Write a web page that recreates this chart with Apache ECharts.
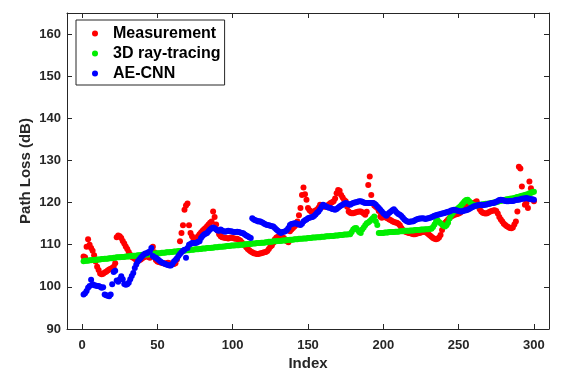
<!DOCTYPE html>
<html>
<head>
<meta charset="utf-8">
<script src="https://cdn.jsdelivr.net/npm/echarts@6/dist/echarts.min.js"></script>
<style>html,body{margin:0;padding:0;background:#fff}#c{width:567px;height:372px}</style>
</head>
<body>
<div id="c"></div>
<script>
const seriesNames = ['Measurement', '3D ray-tracing', 'AE-CNN'];
const xTicks = [0, 50, 100, 150, 200, 250, 300];
const yTicks = [90, 100, 110, 120, 130, 140, 150, 160];

const measurement = [
107.2,107.0,109.5,111.3,110.0,109.2,108.6,107.5,106.0,104.8,
104.0,103.2,103.0,103.1,103.4,103.6,103.9,104.1,104.3,104.5,
104.8,105.6,111.8,112.2,112.0,111.6,110.9,110.3,109.6,109.0,
108.3,107.6,107.1,106.9,106.7,106.4,106.2,106.3,106.5,106.8,
107.0,107.2,107.3,107.1,106.9,107.8,109.5,108.2,106.4,106.0,
105.9,105.8,105.7,105.6,105.5,105.6,105.7,105.6,105.5,105.4,
105.4,105.6,106.5,108.3,110.8,112.8,114.6,118.3,119.3,119.8,
114.6,112.8,112.0,111.4,111.2,111.6,112.0,112.5,112.9,113.3,
113.7,114.0,114.4,114.8,115.2,115.5,117.9,116.6,114.8,113.3,
112.5,112.0,111.8,111.7,111.6,111.6,111.5,111.6,111.7,111.6,
111.5,111.4,111.4,111.2,111.0,110.6,110.2,109.8,109.4,109.0,
108.7,108.4,108.2,108.0,107.9,107.8,107.8,107.9,108.0,108.1,
108.2,108.3,108.5,109.0,109.5,109.8,110.5,111.3,111.7,111.9,
112.0,111.9,111.8,111.6,111.2,110.8,110.6,113.2,113.6,114.0,
114.3,114.7,115.5,117.0,118.7,121.8,123.6,122.0,120.7,118.7,
118.2,117.9,117.8,117.9,118.1,118.3,118.8,119.5,119.3,119.1,
119.0,119.1,119.3,119.6,119.9,120.1,120.3,121.0,122.2,123.0,
122.8,121.8,121.2,120.6,120.3,119.0,117.9,117.6,117.5,117.5,
117.6,117.7,117.8,117.9,117.9,117.7,117.4,117.1,117.8,124.2,
126.2,121.8,119.9,119.3,119.0,118.7,118.0,116.7,116.4,117.1,
116.6,116.4,116.2,116.0,115.8,115.6,115.4,115.3,115.2,115.0,
114.6,114.0,113.5,113.2,113.0,112.9,112.8,112.7,112.6,112.5,
112.5,112.6,112.7,112.8,112.9,113.0,113.1,113.0,112.8,112.5,
112.2,111.9,111.6,111.4,111.3,111.4,111.7,112.3,113.5,114.5,
115.2,115.6,116.0,116.4,116.7,116.9,117.1,117.2,117.3,117.4,
117.6,117.9,118.4,118.7,119.0,119.2,119.4,119.6,119.8,119.9,
120.1,120.3,119.5,118.4,117.9,117.6,117.5,117.4,117.5,117.7,
117.9,118.0,118.1,118.2,118.0,117.4,116.6,116.0,115.5,115.0,
114.7,114.4,114.2,114.0,113.9,114.1,114.8,115.5,117.9,128.5,
128.1,123.8,121.0,119.5,119.9,118.7,125.0,123.4,122.6,120.3
];

const rayTracing = [
106.1,106.2,106.2,106.2,106.3,106.3,106.4,106.4,106.4,106.5,
106.5,106.5,106.6,106.6,106.7,106.7,106.7,106.8,106.8,106.8,
106.9,106.9,107.0,107.0,107.0,107.1,107.1,107.1,107.2,107.2,
107.2,107.3,107.3,107.4,107.4,107.4,107.5,107.5,107.5,107.6,
107.6,107.7,107.7,107.7,107.8,107.8,107.8,107.9,107.9,108.0,
108.0,108.0,108.1,108.1,108.1,108.2,108.2,108.2,108.3,108.3,
108.4,108.4,108.4,108.5,108.5,108.5,108.6,108.6,108.7,108.7,
108.7,108.8,108.8,108.8,108.9,108.9,108.9,109.0,109.0,109.1,
109.1,109.1,109.2,109.2,109.2,109.3,109.3,109.4,109.4,109.4,
109.5,109.5,109.5,109.6,109.6,109.7,109.7,109.7,109.8,109.8,
109.8,109.9,109.9,109.9,110.0,110.0,110.0,110.1,110.1,110.2,
110.2,110.2,110.3,110.3,110.3,110.4,110.4,110.4,110.5,110.5,
110.5,110.6,110.6,110.7,110.7,110.7,110.8,110.8,110.8,110.9,
110.9,110.9,111.0,111.0,111.0,111.1,111.1,111.2,111.2,111.2,
111.3,111.3,111.3,111.4,111.4,111.4,111.5,111.5,111.5,111.6,
111.6,111.6,111.7,111.7,111.7,111.8,111.8,111.8,111.9,111.9,
111.9,112.0,112.0,112.0,112.1,112.1,112.1,112.2,112.2,112.2,
112.3,112.3,112.3,112.4,112.4,112.4,112.5,112.5,113.0,113.6,
113.9,114.0,113.5,113.0,112.8,113.6,114.1,114.6,115.1,115.3,
115.6,115.9,116.3,116.7,115.6,114.7,112.8,112.8,112.8,112.8,
112.9,112.9,112.9,113.0,113.0,113.0,113.0,113.1,113.1,113.1,
113.2,113.2,113.2,113.3,113.3,113.3,113.3,113.4,113.4,113.4,
113.5,113.5,113.5,113.5,113.6,113.6,113.6,113.7,113.7,113.7,
113.8,113.8,114.2,114.8,115.5,115.8,115.4,115.1,114.8,114.5,
114.3,114.6,115.2,116.2,117.0,117.5,117.9,118.2,118.5,118.8,
119.1,119.5,119.9,120.3,120.6,120.7,120.3,119.9,119.6,119.4,
119.3,119.3,119.4,119.5,119.5,119.6,119.6,119.7,119.7,119.8,
119.8,119.9,120.0,120.0,120.1,120.2,120.3,120.4,120.5,120.6,
120.7,120.8,120.8,120.9,121.0,121.0,121.1,121.2,121.3,121.4,
121.5,121.6,121.7,121.8,121.9,122.0,122.2,122.3,122.5,122.6
];

const aeCnn = [
98.2,98.5,99.0,99.8,100.2,101.7,100.6,100.4,100.3,100.2,
100.2,100.0,99.8,99.9,98.2,98.0,97.9,97.8,98.2,100.6,
103.5,103.8,101.5,101.2,101.8,102.5,101.8,100.7,100.5,100.6,
101.0,101.8,102.6,103.3,104.5,105.3,106.0,106.5,106.9,107.3,
107.7,107.9,108.0,108.2,108.4,109.2,107.3,107.0,106.9,106.6,
106.3,106.0,105.8,105.6,105.5,105.3,105.2,105.1,105.1,105.4,
106.0,106.4,106.8,107.3,107.8,108.2,108.6,108.8,106.9,109.2,
110.0,110.2,110.4,110.4,110.4,110.5,110.7,110.8,111.6,112.1,
112.4,112.6,112.8,113.2,113.6,113.9,114.1,113.9,113.6,113.4,
113.3,113.6,113.4,113.2,113.1,113.2,113.3,113.2,113.2,113.1,
113.0,113.0,113.1,113.0,112.9,112.8,112.7,112.4,112.2,112.0,
111.8,111.6,116.3,116.0,115.8,115.7,115.5,115.6,115.4,115.2,
115.0,114.8,114.7,114.6,114.5,114.4,114.3,114.0,113.6,113.3,
113.0,112.8,113.0,113.1,113.2,113.5,114.0,114.7,114.9,115.0,
115.1,115.1,114.9,114.8,114.7,115.0,115.5,115.8,116.0,116.3,
116.4,116.5,116.6,116.8,117.2,117.6,117.9,118.4,119.0,119.5,
119.3,119.1,118.9,118.8,118.7,118.5,118.4,118.3,118.5,118.8,
119.1,119.3,119.5,119.7,119.9,119.8,119.6,119.5,119.7,119.9,
120.0,120.1,120.2,120.3,120.3,120.2,120.0,119.9,119.9,119.9,
119.9,119.9,119.9,119.8,119.5,119.1,118.7,118.3,117.9,117.5,
117.2,116.9,117.3,117.6,117.9,118.2,118.4,118.0,117.6,117.3,
117.1,116.8,116.4,116.0,115.7,115.5,115.4,115.5,115.5,115.6,
115.8,116.0,116.1,116.2,116.2,116.3,116.2,116.1,116.2,116.3,
116.4,116.5,116.7,116.9,117.0,117.1,117.2,117.3,117.4,117.5,
117.6,117.7,117.8,117.9,118.1,118.2,118.3,118.2,118.1,118.0,
117.9,117.9,118.0,118.1,118.2,118.3,118.5,118.7,118.9,119.1,
119.2,119.3,119.4,119.5,119.5,119.4,119.5,119.5,119.6,119.7,
119.8,119.9,119.9,120.0,120.2,120.4,120.6,120.7,120.6,120.5,
120.4,120.3,120.3,120.4,120.4,120.4,120.5,120.6,120.7,120.7,
120.8,120.9,121.0,121.0,121.1,121.0,120.9,120.8,120.8,120.7
];

const colors = ['#ff0000', '#00ee00', '#0000ff'];
const FONT = 'Liberation Sans, Arial, sans-serif';
const toPairs = arr => arr.map((v, i) => [i + 1, v]);

const chart = echarts.init(document.getElementById('c'), null, {renderer: 'canvas'});

const axisLine = {show: true, onZero: false, lineStyle: {color: '#262626', width: 1}};
const tick = vals => ({show: true, inside: true, length: 5, customValues: vals, lineStyle: {color: '#262626', width: 1}});

chart.setOption({
  animation: false,
  backgroundColor: '#ffffff',
  grid: {left: 67, right: 18, top: 13, bottom: 43, containLabel: false, outerBoundsMode: 'none'},
  legend: {
    data: seriesNames,
    orient: 'vertical',
    left: 76, top: 20,
    padding: [5, 4, 3, 16],
    itemGap: 3,
    itemWidth: 6, itemHeight: 6,
    icon: 'circle',
    backgroundColor: '#ffffff',
    borderColor: '#262626', borderWidth: 1,
    textStyle: {fontFamily: FONT, fontWeight: 'bold', fontSize: 16, color: '#000', padding: [0, 0, 0, 10], lineHeight: 17}
  },
  xAxis: [
    {type: 'value', min: -10, max: 310, position: 'bottom',
     name: 'Index', nameLocation: 'middle', nameGap: 27, nameMoveOverlap: false,
     nameTextStyle: {fontFamily: FONT, fontWeight: 'bold', fontSize: 15, color: '#262626'},
     axisLine, axisTick: tick(xTicks), splitLine: {show: false},
     axisLabel: {customValues: xTicks, margin: 10, fontFamily: FONT, fontWeight: 'bold', fontSize: 13, color: '#262626'}},
    {type: 'value', min: -10, max: 310, position: 'top',
     axisLine, axisTick: tick(xTicks), splitLine: {show: false}, axisLabel: {show: false}}
  ],
  yAxis: [
    {type: 'value', min: 90, max: 165, position: 'left',
     name: 'Path Loss (dB)', nameLocation: 'middle', nameGap: 34, nameRotate: 90, nameMoveOverlap: false,
     nameTextStyle: {fontFamily: FONT, fontWeight: 'bold', fontSize: 15, color: '#262626'},
     axisLine, axisTick: tick(yTicks), splitLine: {show: false},
     axisLabel: {customValues: yTicks, margin: 6, fontFamily: FONT, fontWeight: 'bold', fontSize: 13, color: '#262626'}},
    {type: 'value', min: 90, max: 165, position: 'right',
     axisLine, axisTick: tick(yTicks), splitLine: {show: false}, axisLabel: {show: false}}
  ],
  series: [
    {name: seriesNames[0], type: 'scatter', data: toPairs(measurement), symbolSize: 6, itemStyle: {color: colors[0], opacity: 1}, z: 2},
    {name: seriesNames[1], type: 'scatter', data: toPairs(rayTracing), symbolSize: 6, itemStyle: {color: colors[1], opacity: 1}, z: 3},
    {name: seriesNames[2], type: 'scatter', data: toPairs(aeCnn), symbolSize: 6, itemStyle: {color: colors[2], opacity: 1}, z: 4}
  ]
});
</script>
</body>
</html>
